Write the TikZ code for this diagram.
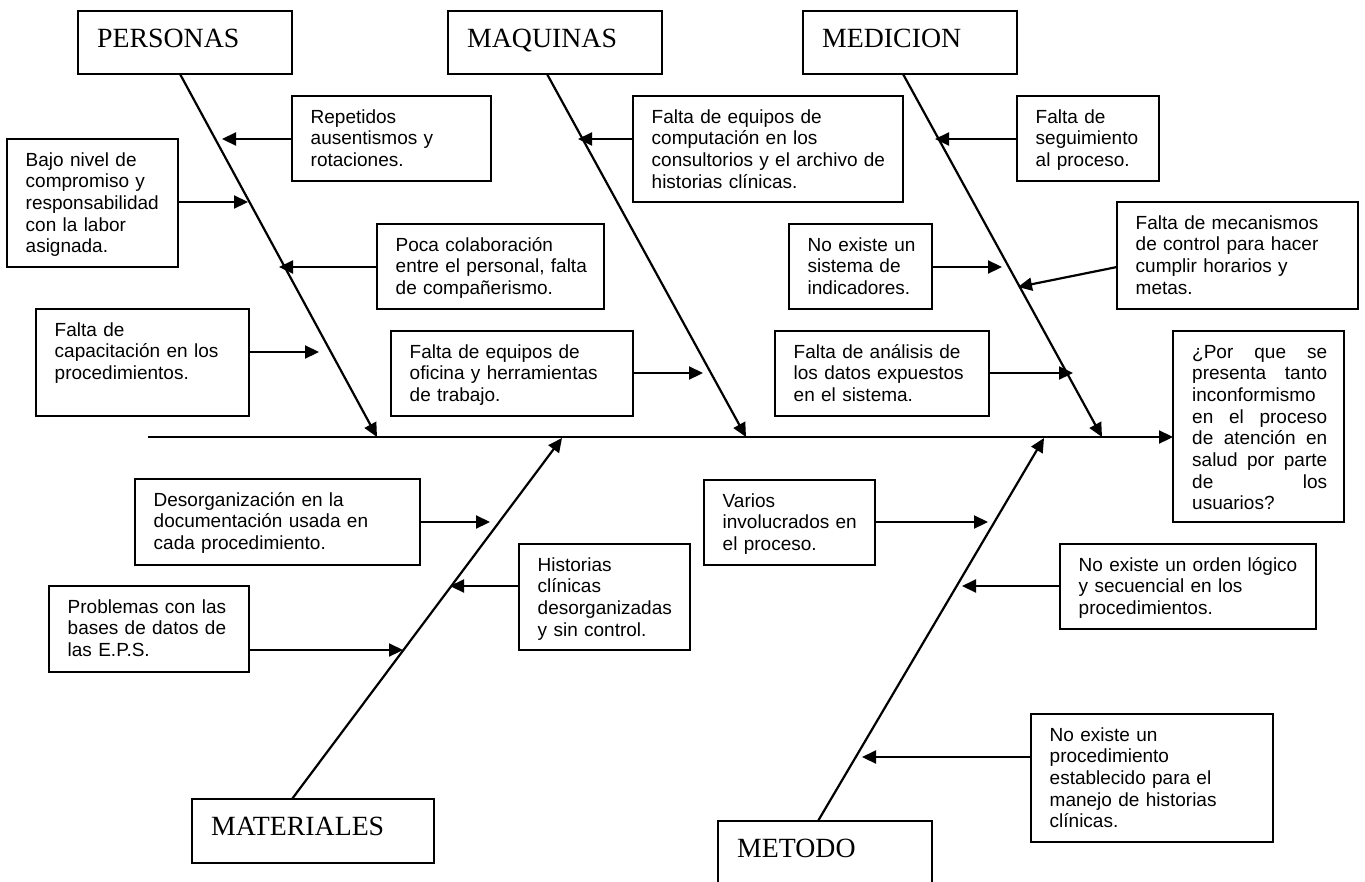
\documentclass[tikz,border=0pt]{standalone}
\usepackage{fontspec}
\setmainfont{Liberation Serif}
\newfontfamily\arial{Liberation Sans}
\usetikzlibrary{arrows.meta,calc}

\tikzset{
  x=1pt, y=-1pt,
  cbox/.style={draw, line width=1.8pt, inner sep=0pt, outer sep=0pt},
  ctext/.style={font=\arial\fontsize{19}{21.7}\selectfont, align=left,
                text width=320pt, inner sep=0pt},
  ttext/.style={font=\fontsize{27.8}{30}\selectfont, inner sep=0pt},
  bone/.style={line width=2.2pt, -{Triangle[length=14pt,width=13pt]}},
  twig/.style={line width=2.2pt, -{Triangle[length=14pt,width=13pt]}}
}

% cause box: name, x, y, width, height, text
\newcommand\causebox[6]{%
  \node[cbox, minimum width=#4pt, minimum height=#5pt, anchor=north west] (#1) at (#2,#3) {};
  \node[ctext, anchor=base west] (#1-t) at ($(#1.north west)+(18.5,27)$) {#6};
}
% category box: name, x, y, width, height, title
\newcommand\catbox[6]{%
  \node[cbox, minimum width=#4pt, minimum height=#5pt, anchor=north west] (#1) at (#2,#3) {};
  \node[ttext, anchor=base west] (#1-t) at ($(#1.north west)+(19,36)$) {#6};
}

\begin{document}
\begin{tikzpicture}
\useasboundingbox (0,0) rectangle (1365,881);

% categories
\catbox{per}{78}{11}{214}{63}{PERSONAS}
\catbox{maq}{448}{11}{214}{63}{MAQUINAS}
\catbox{med}{803}{11}{214}{63}{MEDICION}
\catbox{mat}{192}{799}{242}{64}{MATERIALES}
\catbox{met}{718}{821}{214}{90}{METODO}

% causes
\causebox{rep}{292}{96}{199}{85}{Repetidos\\ausentismos y\\rotaciones.}
\causebox{bajo}{7}{139}{171}{128}{Bajo nivel de\\compromiso y\\responsabilidad\\con la labor\\asignada.}
\causebox{poca}{377}{224}{227}{85}{Poca colaboración\\entre el personal, falta\\de compañerismo.}
\causebox{cap}{36}{309}{213}{107}{Falta de\\capacitación en los\\procedimientos.}
\causebox{ofi}{391}{331}{242}{85}{Falta de equipos de\\oficina y herramientas\\de trabajo.}
\causebox{comp}{633}{96}{270}{106}{Falta de equipos de\\computación en los\\consultorios y el archivo de\\historias clínicas.}
\causebox{sis}{789}{224}{143}{85}{No existe un\\sistema de\\indicadores.}
\causebox{seg}{1017}{96}{142}{85}{Falta de\\seguimiento\\al proceso.}
\causebox{mec}{1117}{202}{241}{107}{Falta de mecanismos\\de control para hacer\\cumplir horarios y\\metas.}
\causebox{ana}{775}{331}{214}{85}{Falta de análisis de\\los datos expuestos\\en el sistema.}
\causebox{des}{135}{479}{285}{86}{Desorganización en la\\documentación usada en\\cada procedimiento.}
\causebox{his}{519}{544}{171}{106}{Historias\\clínicas\\desorganizadas\\y sin control.}
\causebox{pro}{49}{586}{200}{86}{Problemas con las\\bases de datos de\\las E.P.S.}
\causebox{var}{704}{480}{171}{85}{Varios\\involucrados en\\el proceso.}
\causebox{ord}{1060}{544}{256}{85}{No existe un orden lógico\\y secuencial en los\\procedimientos.}
\causebox{proc}{1031}{714}{242}{128}{No existe un\\procedimiento\\establecido para el\\manejo de historias\\clínicas.}

% effect
\node[cbox, minimum width=171pt, minimum height=191pt, anchor=north west] (q) at (1173,331) {};
\node[ctext, text width=135pt, anchor=base west] (q-t) at ($(q.north west)+(19,27)$)
  {¿Por\hfill que\hfill se\\presenta\hfill tanto\\inconformismo\\en\hfill el\hfill proceso\\de\hfill atención\hfill en\\salud\hfill por\hfill parte\\de\hfill los\\usuarios?};

% spine
\coordinate (sp) at (148,437);
\draw[bone] (sp) -- (sp -| q.west);

% junctions on the spine
\coordinate (j-per) at (377,437);
\coordinate (j-maq) at (746,437);
\coordinate (j-med) at (1102,437);
\coordinate (j-mat) at (562,438);
\coordinate (j-met) at (1044,438);

% main bones
\draw[bone] ([xshift=102pt]per.south west) -- (j-per);
\draw[bone] ([xshift=99pt]maq.south west) -- (j-maq);
\draw[bone] ([xshift=100pt]med.south west) -- (j-med);
\draw[bone] ([xshift=100pt]mat.north west) -- (j-mat);
\draw[bone] ([xshift=100pt]met.north west) -- (j-met);

% arrow tips of the causes
\coordinate (t-rep) at (222,139);
\coordinate (t-bajo) at (248,202);
\coordinate (t-poca) at (279,267);
\coordinate (t-cap) at (319,352);
\coordinate (t-comp) at (578,139);
\coordinate (t-ofi) at (703,373);
\coordinate (t-seg) at (935,139);
\coordinate (t-sis) at (1002,267);
\coordinate (t-mec) at (1018,287);
\coordinate (t-ana) at (1073,373);
\coordinate (t-des) at (490,522);
\coordinate (t-his) at (450,586);
\coordinate (t-pro) at (403,650);
\coordinate (t-var) at (988,522);
\coordinate (t-ord) at (962,586);
\coordinate (t-proc) at (862,757);

\draw[twig] (t-rep -| rep.west) -- (t-rep);
\draw[twig] (t-bajo -| bajo.east) -- (t-bajo);
\draw[twig] (t-poca -| poca.west) -- (t-poca);
\draw[twig] (t-cap -| cap.east) -- (t-cap);
\draw[twig] (t-comp -| comp.west) -- (t-comp);
\draw[twig] (t-ofi -| ofi.east) -- (t-ofi);
\draw[twig] (t-seg -| seg.west) -- (t-seg);
\draw[twig] (t-sis -| sis.east) -- (t-sis);
\draw[twig] ([yshift=-11.5pt]mec.west) -- (t-mec);
\draw[twig] (t-ana -| ana.east) -- (t-ana);
\draw[twig] (t-des -| des.east) -- (t-des);
\draw[twig] (t-his -| his.west) -- (t-his);
\draw[twig] (t-pro -| pro.east) -- (t-pro);
\draw[twig] (t-var -| var.east) -- (t-var);
\draw[twig] (t-ord -| ord.west) -- (t-ord);
\draw[twig] (t-proc -| proc.west) -- (t-proc);
\end{tikzpicture}
\end{document}
